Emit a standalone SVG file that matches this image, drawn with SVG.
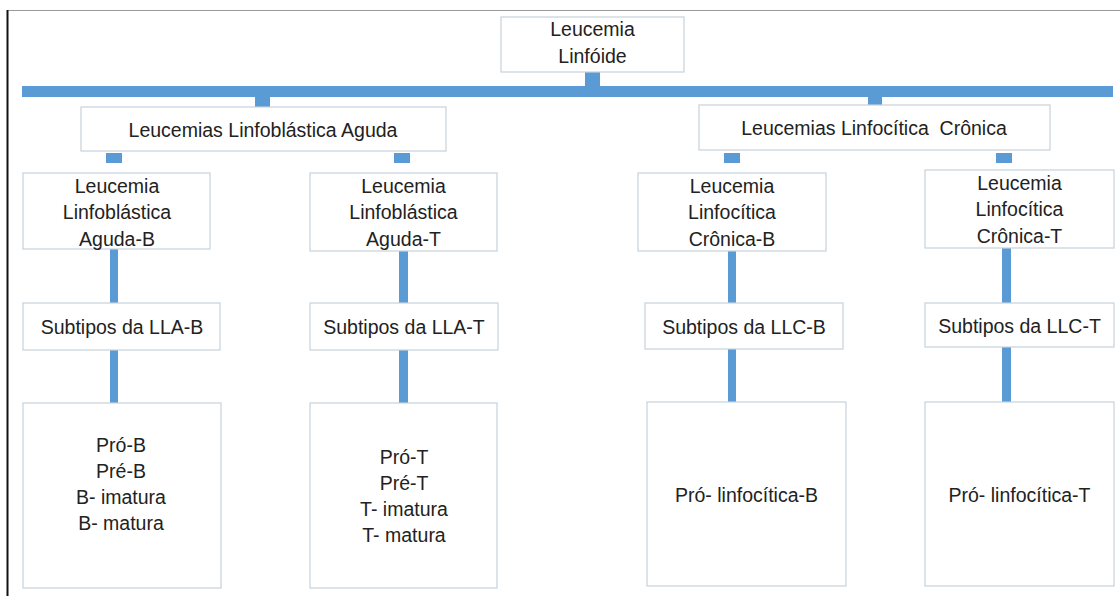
<svg xmlns="http://www.w3.org/2000/svg" width="1120" height="596" viewBox="0 0 1120 596">
<style>
.box{fill:#fff;stroke:#c5d3dd;stroke-width:1.2}
.con{fill:#5b9bd5}
text{font-family:"Liberation Sans",Arial,sans-serif;font-size:19.5px;fill:#222;text-anchor:middle}
</style>
<rect x="0" y="0" width="1120" height="596" fill="#fff"/>
<line x1="7" y1="10.5" x2="1120" y2="10.5" stroke="#9a9a9a" stroke-width="1"/>
<line x1="7.5" y1="10" x2="7.5" y2="596" stroke="#111" stroke-width="2"/>
<g id="connectors">
<rect class="con" x="585" y="72" width="15" height="15"/>
<rect class="con" x="22" y="86" width="1091" height="11"/>
<rect class="con" x="255" y="97" width="15" height="10"/>
<rect class="con" x="868" y="97" width="14" height="9"/>
<rect class="con" x="106" y="153" width="16" height="10"/>
<rect class="con" x="394" y="153" width="16" height="10"/>
<rect class="con" x="724" y="153" width="16" height="10"/>
<rect class="con" x="996" y="153" width="16" height="10"/>
<rect class="con" x="110" y="249" width="8" height="54"/>
<rect class="con" x="399" y="251" width="9" height="52"/>
<rect class="con" x="728" y="251" width="8" height="52"/>
<rect class="con" x="1002" y="248" width="9" height="55"/>
<rect class="con" x="110" y="350" width="8" height="53"/>
<rect class="con" x="399" y="350" width="9" height="53"/>
<rect class="con" x="728" y="349" width="8" height="53"/>
<rect class="con" x="1002" y="347" width="9" height="55"/>
</g>
<g id="n-root"><rect class="box" x="501" y="17" width="183" height="55"/><text x="592.5" y="36">Leucemia</text><text x="592.5" y="63">Linfóide</text></g>
<g id="n-lla"><rect class="box" x="81" y="107" width="365" height="44"/><text x="263" y="137">Leucemias Linfoblástica Aguda</text></g>
<g id="n-llc"><rect class="box" x="699" y="105" width="351" height="45"/><text x="874" y="135" xml:space="preserve" style="white-space:pre">Leucemias Linfocítica  Crônica</text></g>
<g id="n-llab"><rect class="box" x="23" y="173" width="187" height="76"/><text x="117" y="193">Leucemia</text><text x="117" y="219">Linfoblástica</text><text x="117" y="246">Aguda-B</text></g>
<g id="n-llat"><rect class="box" x="310" y="173" width="187" height="78"/><text x="403.5" y="193">Leucemia</text><text x="403.5" y="219">Linfoblástica</text><text x="403.5" y="246">Aguda-T</text></g>
<g id="n-llcb"><rect class="box" x="638" y="173" width="188" height="78"/><text x="732" y="193">Leucemia</text><text x="732" y="219">Linfocítica</text><text x="732" y="246">Crônica-B</text></g>
<g id="n-llct"><rect class="box" x="925" y="170" width="189" height="78"/><text x="1019.5" y="190">Leucemia</text><text x="1019.5" y="216">Linfocítica</text><text x="1019.5" y="243">Crônica-T</text></g>
<g id="n-sub-llab"><rect class="box" x="23" y="303" width="197" height="47"/><text x="122" y="334">Subtipos da LLA-B</text></g>
<g id="n-sub-llat"><rect class="box" x="310" y="303" width="188" height="47"/><text x="404" y="334">Subtipos da LLA-T</text></g>
<g id="n-sub-llcb"><rect class="box" x="645" y="303" width="198" height="46"/><text x="744" y="334">Subtipos da LLC-B</text></g>
<g id="n-sub-llct"><rect class="box" x="925" y="303" width="189" height="44"/><text x="1019.5" y="333">Subtipos da LLC-T</text></g>
<g id="n-list-b"><rect class="box" x="23" y="403" width="198" height="185"/><text x="121" y="452">Pró-B</text><text x="121" y="478">Pré-B</text><text x="121" y="504">B- imatura</text><text x="121" y="530">B- matura</text></g>
<g id="n-list-t"><rect class="box" x="310" y="403" width="187" height="185"/><text x="404" y="464">Pró-T</text><text x="404" y="490">Pré-T</text><text x="404" y="516">T- imatura</text><text x="404" y="542">T- matura</text></g>
<g id="n-pro-b"><rect class="box" x="647" y="402" width="199" height="184"/><text x="746.5" y="502">Pró- linfocítica-B</text></g>
<g id="n-pro-t"><rect class="box" x="925" y="402" width="189" height="184"/><text x="1019.5" y="502">Pró- linfocítica-T</text></g>
</svg>
